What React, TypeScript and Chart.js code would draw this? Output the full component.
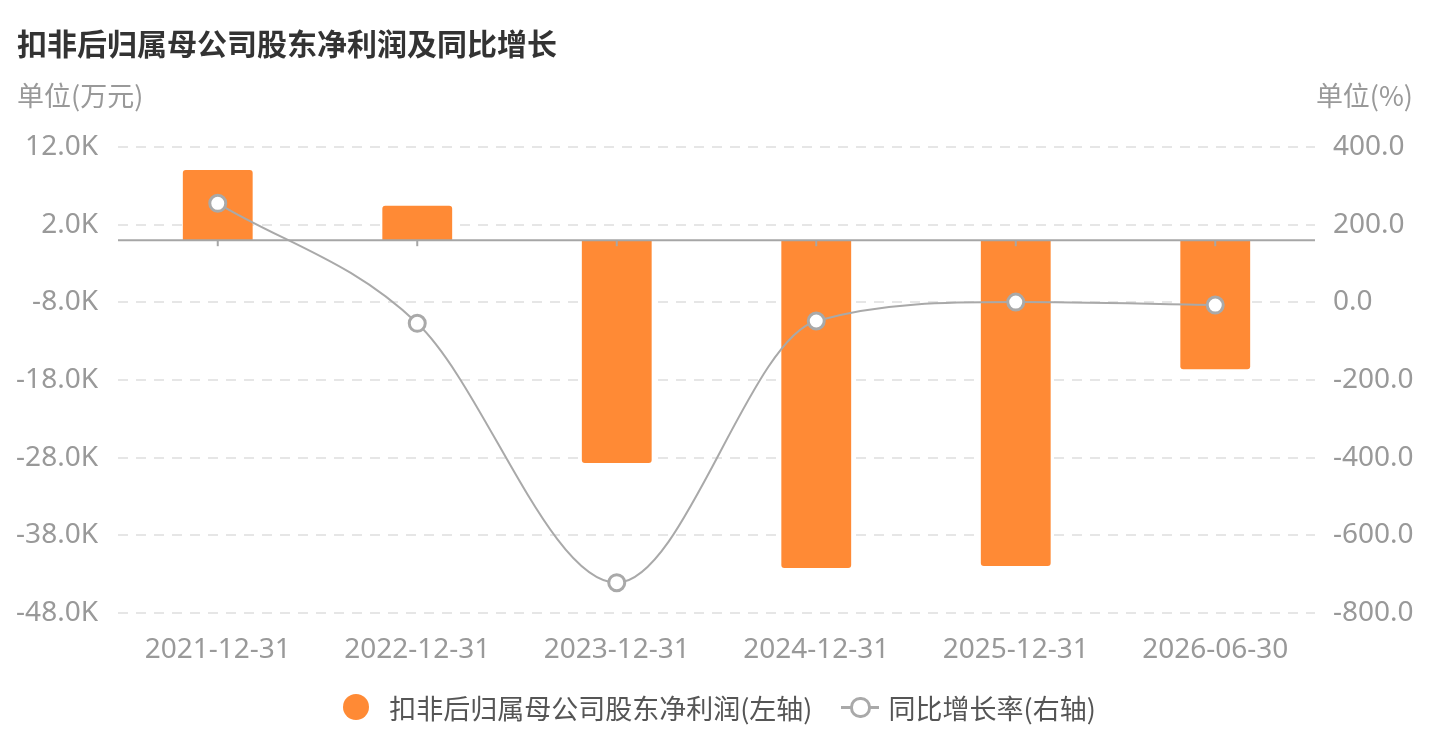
import * as React from 'react';
import { useEffect, useRef } from 'react';
import { Chart, registerables } from 'chart.js';

Chart.register(...registerables);

const categories = ['2021-12-31', '2022-12-31', '2023-12-31', '2024-12-31', '2025-12-31', '2026-06-30'];
// 扣非后归属母公司股东净利润 (万元)
const profitValues = [9040, 4440, -28690, -42200, -41950, -16620];
// 同比增长率 (%)
const growthValues = [255, -54, -722, -48, 0.6, -7];
const leftTicks = { min: -48000, max: 12000, step: 10000 };
const rightTicks = { min: -800, max: 400, step: 200 };

const BAR_COLOR = '#ff8a35';
const LINE_COLOR = '#a9a9a9';
const NUM_FONT = '"Noto Sans", "Noto Sans CJK SC", sans-serif';
const CJK_FONT = '"Noto Sans CJK SC", "Noto Sans", sans-serif';

// solid axis line at zero with small tick marks under each category
const zeroLinePlugin = {
  id: 'zeroLine',
  afterDatasetsDraw(chart: any) {
    const { ctx, chartArea, scales } = chart;
    const y0 = scales.y.getPixelForValue(0);
    ctx.save();
    ctx.strokeStyle = '#a6a6a6';
    ctx.lineWidth = 2;
    ctx.beginPath();
    ctx.moveTo(chartArea.left, y0);
    ctx.lineTo(chartArea.right, y0);
    ctx.stroke();
    scales.x.ticks.forEach((_t: any, i: number) => {
      const x = scales.x.getPixelForTick(i);
      ctx.beginPath();
      ctx.moveTo(x, y0);
      ctx.lineTo(x, y0 + 6);
      ctx.stroke();
    });
    ctx.restore();
  }
};

export default function App() {
  const canvasRef = useRef<HTMLCanvasElement>(null);

  useEffect(() => {
    const chart = new Chart(canvasRef.current!, {
      type: 'bar',
      data: {
        labels: categories,
        datasets: [
          {
            type: 'line',
            label: '同比增长率(右轴)',
            data: growthValues,
            yAxisID: 'y1',
            borderColor: LINE_COLOR,
            borderWidth: 2,
            cubicInterpolationMode: 'monotone',
            pointRadius: 8,
            pointBorderWidth: 3,
            pointBackgroundColor: '#fff',
            pointBorderColor: LINE_COLOR,
            order: 1
          } as any,
          {
            type: 'bar',
            label: '扣非后归属母公司股东净利润(左轴)',
            data: profitValues,
            yAxisID: 'y',
            backgroundColor: BAR_COLOR,
            borderRadius: 3,
            barPercentage: 0.35,
            categoryPercentage: 1,
            order: 2
          }
        ]
      },
      options: {
        animation: false,
        responsive: true,
        maintainAspectRatio: false,
        layout: { padding: { top: 147, bottom: 58, left: 0, right: 0 } },
        plugins: {
          legend: { display: false },
          tooltip: { enabled: false }
        },
        scales: {
          x: {
            grid: { display: false, drawTicks: false },
            border: { display: false },
            ticks: {
              color: '#999',
              padding: 20,
              font: { size: 28, family: NUM_FONT }
            },
            afterFit: (s: any) => { s.height = 60; }
          },
          y: {
            position: 'left',
            min: leftTicks.min,
            max: leftTicks.max,
            grid: { color: '#e6e6e6', lineWidth: 2, drawTicks: false },
            border: { display: false, dash: [10, 8] },
            ticks: {
              stepSize: leftTicks.step,
              color: '#999',
              padding: 20,
              font: { size: 28, family: NUM_FONT },
              callback: (v: any) => (Number(v) / 1000).toFixed(1) + 'K'
            },
            afterFit: (s: any) => { s.width = 118; }
          },
          y1: {
            position: 'right',
            min: rightTicks.min,
            max: rightTicks.max,
            grid: { display: false, drawTicks: false },
            border: { display: false },
            ticks: {
              stepSize: rightTicks.step,
              color: '#999',
              padding: 18,
              font: { size: 28, family: NUM_FONT },
              callback: (v: any) => Number(v).toFixed(1)
            },
            afterFit: (s: any) => { s.width = 124; }
          }
        }
      },
      plugins: [zeroLinePlugin]
    });
    return () => chart.destroy();
  }, []);

  return (
    <div style={{ position: 'fixed', left: 0, top: 0, width: 1439, height: 731, background: '#fff', overflow: 'hidden' }}>
      <canvas ref={canvasRef} />
      <div style={{ position: 'absolute', left: 17, top: 27, fontSize: 30, lineHeight: '30px', fontWeight: 'bold', color: '#333', fontFamily: CJK_FONT }}>
        扣非后归属母公司股东净利润及同比增长
      </div>
      <div style={{ position: 'absolute', left: 17, top: 81, fontSize: 27, lineHeight: '27px', color: '#999', fontFamily: CJK_FONT }}>
        单位(万元)
      </div>
      <div style={{ position: 'absolute', right: 26, top: 81, fontSize: 27, lineHeight: '27px', color: '#999', fontFamily: CJK_FONT }}>
        单位(%)
      </div>
      <div style={{ position: 'absolute', left: 0, right: 0, top: 693, height: 28, display: 'flex', justifyContent: 'center', alignItems: 'center', fontSize: 27, color: '#555', fontFamily: CJK_FONT }}>
        <span style={{ width: 26, height: 26, borderRadius: 13, background: BAR_COLOR, marginRight: 20 }} />
        <span>扣非后归属母公司股东净利润(左轴)</span>
        <span style={{ position: 'relative', width: 38, height: 22, marginLeft: 28, marginRight: 10 }}>
          <span style={{ position: 'absolute', left: 0, right: 0, top: 10, height: 3, background: LINE_COLOR }} />
          <span style={{ position: 'absolute', left: 9, top: 1, width: 15, height: 15, borderRadius: 10, border: `3px solid ${LINE_COLOR}`, background: '#fff' }} />
        </span>
        <span>同比增长率(右轴)</span>
      </div>
    </div>
  );
}
